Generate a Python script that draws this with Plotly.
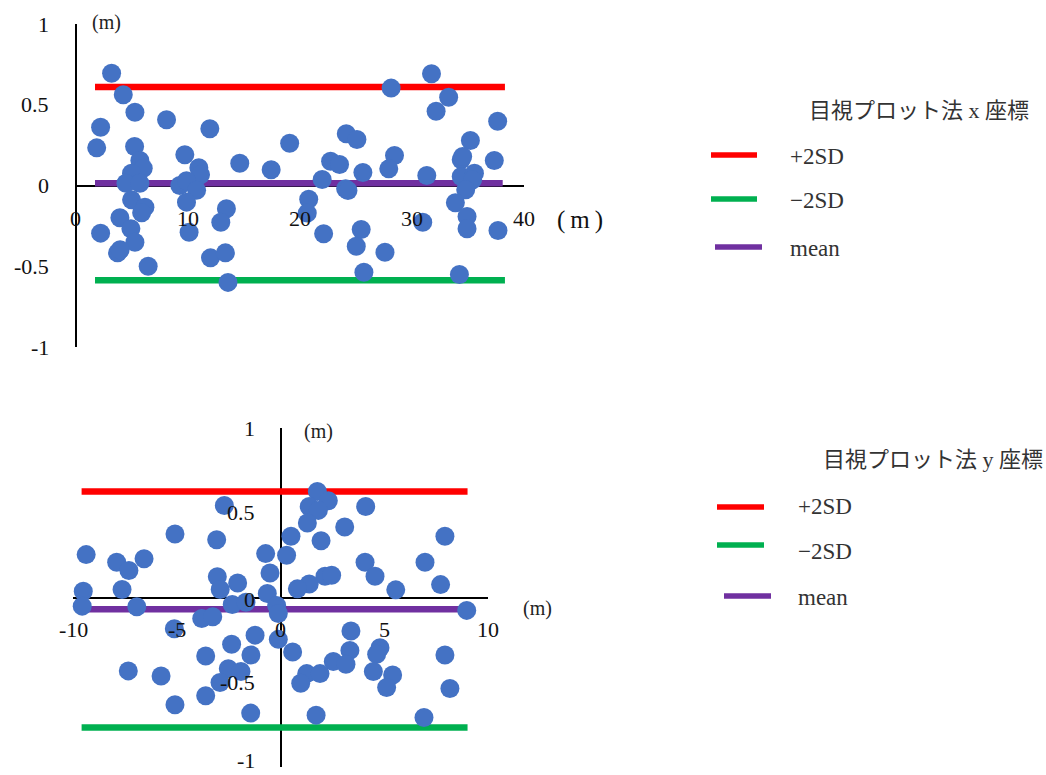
import plotly.graph_objects as go

# ---------------- top panel: x-coordinate residuals ----------------
top_pos = [3.22, 4.26, 5.3, 2.24, 8.12, 11.98, 1.89, 5.27, 5.74, 6.04, 9.75, 11.0, 11.15, 14.65,
           17.45, 5.0, 4.5, 5.74, 9.3, 9.9, 10.8, 5.0, 6.19, 5.9, 9.9, 13.46, 3.96, 12.96, 2.24,
           4.94, 10.13, 5.3, 3.75, 3.98, 6.48, 12.04, 13.37, 13.6,
           28.15, 31.75, 33.28, 32.16, 37.65, 19.1, 24.15, 25.1, 35.22, 28.45, 22.75, 23.55, 34.4,
           34.53, 37.35, 25.63, 27.94, 31.33, 22.0, 34.4, 35.58, 35.42, 24.09, 24.3, 34.8, 20.8,
           20.67, 33.88, 34.92, 30.97, 34.92, 37.68, 22.13, 25.48, 25.04, 27.6, 25.72, 34.24]
top_err = [0.695, 0.562, 0.454, 0.361, 0.407, 0.351, 0.233, 0.241, 0.155, 0.107, 0.19, 0.11, 0.066,
           0.138, 0.097, 0.076, 0.014, 0.014, 0.0, 0.03, -0.03, -0.089, -0.134, -0.169, -0.103,
           -0.144, -0.2, -0.227, -0.295, -0.268, -0.289, -0.351, -0.417, -0.398, -0.5, -0.448,
           -0.417, -0.6,
           0.603, 0.692, 0.547, 0.46, 0.398, 0.262, 0.32, 0.285, 0.279, 0.186, 0.15, 0.13, 0.159,
           0.18, 0.155, 0.08, 0.103, 0.062, 0.037, 0.056, 0.076, 0.035, -0.02, -0.031, -0.027,
           -0.085, -0.171, -0.107, -0.192, -0.227, -0.268, -0.279, -0.299, -0.272, -0.376, -0.413,
           -0.537, -0.551]
top_plus2sd = 0.61
top_minus2sd = -0.587
top_mean = 0.014
top_band_x = [1.74, 38.3]
top_mean_x = [1.74, 38.1]

# ---------------- bottom panel: y-coordinate residuals ----------------
bot_pos = [-2.72, -5.1, -3.09, -9.38, -7.91, -7.32, -6.59, -0.73, -0.52, -3.06, -2.92, -2.08,
           -9.52, -7.65, -0.65, -9.57, -6.94, -2.34, -1.68, -0.2, -0.12, -3.81, -3.28, -5.13,
           -1.24, -2.37, -0.12, -3.62, -1.44, -2.53, -1.92, -2.93, -7.35, -5.77, -3.62, -5.1,
           -1.45,
           1.76, 2.29, 1.37, 1.81, 4.09, 1.28, 3.08, 0.49, 1.94, 7.91, 0.28, 4.06, 6.95, 4.54,
           2.13, 2.45, 1.37, 0.8, 5.54, 7.7, 8.96, 3.38, 0.57, 3.33, 4.78, 4.62, 2.53, 3.14, 1.25,
           1.89, 0.96, 4.46, 5.39, 5.1, 7.91, 8.15, 1.7, 6.9]
bot_err = [0.543, 0.375, 0.341, 0.253, 0.208, 0.159, 0.229, 0.259, 0.145, 0.122, 0.047, 0.086,
           0.037, 0.047, 0.024, -0.051, -0.055, -0.041, -0.028, -0.047, -0.094, -0.124, -0.114,
           -0.184, -0.222, -0.276, -0.247, -0.345, -0.339, -0.42, -0.437, -0.502, -0.433, -0.463,
           -0.58, -0.633, -0.682,
           0.625, 0.571, 0.537, 0.514, 0.537, 0.439, 0.416, 0.361, 0.335, 0.361, 0.249, 0.208,
           0.208, 0.125, 0.125, 0.131, 0.08, 0.051, 0.045, 0.076, -0.076, -0.198, -0.322, -0.312,
           -0.296, -0.335, -0.378, -0.394, -0.449, -0.449, -0.506, -0.437, -0.457, -0.531, -0.339,
           -0.537, -0.694, -0.708]
bot_plus2sd = 0.625
bot_minus2sd = -0.767
bot_mean = -0.07
bot_band_x = [-9.6, 9.0]
bot_mean_x = [-9.45, 8.7]

# ---------------- tick labels ----------------
top_xticks = [0, 10, 20, 30, 40]
bot_xticks = [-10, -5, 0, 5, 10]
yticks = [1, 0.5, 0, -0.5, -1]
ytick_text = ["1", "0.5", "0", "-0.5", "-1"]

series_names = ["+2SD", "\u22122SD", "mean"]
series_colors = ["#FF0000", "#00B050", "#7030A0"]
point_color = "#4472C4"

top_title = "目視プロット法 x 座標"
bot_title = "目視プロット法 y 座標"

W, H = 1046, 775
FONT = "Liberation Serif, 'Noto Sans CJK JP', serif"


def px(x):
    return x / W


def py(y):
    return 1 - y / H


fig = go.Figure()

# limit lines + mean, then the points on top
for xa, ya, levels, band, mean_x in [
        ("x", "y", [top_plus2sd, top_minus2sd, top_mean], top_band_x, top_mean_x),
        ("x2", "y2", [bot_plus2sd, bot_minus2sd, bot_mean], bot_band_x, bot_mean_x)]:
    for name, color, level, xs in zip(series_names, series_colors, levels, [band, band, mean_x]):
        fig.add_trace(go.Scatter(x=xs, y=[level, level], mode="lines", name=name,
                                 line=dict(color=color, width=6.5), xaxis=xa, yaxis=ya,
                                 showlegend=False, cliponaxis=False, hoverinfo="skip"))

fig.add_trace(go.Scatter(x=top_pos, y=top_err, mode="markers", xaxis="x", yaxis="y",
                         marker=dict(color=point_color, size=19), showlegend=False,
                         cliponaxis=False))
fig.add_trace(go.Scatter(x=bot_pos, y=bot_err, mode="markers", xaxis="x2", yaxis="y2",
                         marker=dict(color=point_color, size=19), showlegend=False,
                         cliponaxis=False))

axis_common = dict(showgrid=False, showticklabels=False, showline=False, ticks="",
                   zeroline=True, zerolinecolor="#000000", zerolinewidth=2)

fig.update_layout(
    width=W, height=H,
    margin=dict(l=0, r=0, t=0, b=0),
    paper_bgcolor="white", plot_bgcolor="white",
    xaxis=dict(domain=[px(75.5), px(524)], range=[0, 40], anchor="y", **axis_common),
    yaxis=dict(domain=[py(347), py(24)], range=[-1, 1], anchor="x", **axis_common),
    xaxis2=dict(domain=[px(73.3), px(488.3)], range=[-10, 10], anchor="y2", **axis_common),
    yaxis2=dict(domain=[py(767), py(428)], range=[-1, 1], anchor="x2", **axis_common),
    showlegend=False,
)

ann = []
tick_font = dict(family=FONT, size=22, color="#111111")
# top panel ticks
for v in top_xticks:
    ann.append(dict(x=v, y=0, xref="x", yref="y", text=str(v), showarrow=False,
                    xanchor="center", yanchor="middle", yshift=-33, font=tick_font))
for v, t in zip(yticks, ytick_text):
    ann.append(dict(x=0, y=v, xref="x", yref="y", text=t, showarrow=False,
                    xanchor="right", yanchor="middle", xshift=-25, font=tick_font))
# bottom panel ticks
for v in bot_xticks:
    ann.append(dict(x=v, y=0, xref="x2", yref="y2", text=str(v), showarrow=False,
                    xanchor="center", yanchor="middle", yshift=-32, font=tick_font))
for v, t in zip(yticks, ytick_text):
    shift = {0: -2, -1: 7}.get(v, 0)
    ann.append(dict(x=0, y=v, xref="x2", yref="y2", text=t, showarrow=False,
                    xanchor="right", yanchor="middle", xshift=-24,
                    yshift=shift, font=tick_font))

# unit labels
unit_small = dict(family=FONT, size=20, color="#222222")
ann += [
    dict(x=px(106), y=py(23), xref="paper", yref="paper", text="(m)", showarrow=False,
         xanchor="center", yanchor="middle", font=unit_small),
    dict(x=px(580), y=py(220), xref="paper", yref="paper", text="(\u2009m\u2009)",
         showarrow=False, xanchor="center", yanchor="middle",
         font=dict(family=FONT, size=25, color="#111111")),
    dict(x=px(318), y=py(431), xref="paper", yref="paper", text="(m)", showarrow=False,
         xanchor="center", yanchor="middle", font=unit_small),
    dict(x=px(537), y=py(608), xref="paper", yref="paper", text="(m)", showarrow=False,
         xanchor="center", yanchor="middle", font=unit_small),
]

# legends drawn beside each panel
legend_font = dict(family=FONT, size=23, color="#333333")
title_font = dict(family=FONT, size=22, color="#333333")
shapes = []
for title, tx, tanchor, ty, line_x, mean_line_x, text_x, rows_line, rows_text in [
        (top_title, 807, "left", 110, (711, 757), (715, 762), 788, [155, 199, 247], [156, 201, 248]),
        (bot_title, 1045, "right", 460, (717, 764), (724, 771), 796, [507, 545, 596], [506, 551, 597])]:
    ann.append(dict(x=px(tx), y=py(ty), xref="paper", yref="paper", text=title,
                    showarrow=False, xanchor=tanchor, yanchor="middle", font=title_font))
    for i, (name, color) in enumerate(zip(series_names, series_colors)):
        lx = mean_line_x if i == 2 else line_x
        shapes.append(dict(type="line", xref="paper", yref="paper",
                           x0=px(lx[0]), x1=px(lx[1]), y0=py(rows_line[i]), y1=py(rows_line[i]),
                           line=dict(color=color, width=5.5)))
        ann.append(dict(x=px(text_x), y=py(rows_text[i]), xref="paper", yref="paper",
                        text=name, showarrow=False, xanchor="left", yanchor="middle",
                        font=legend_font))

fig.update_layout(annotations=ann, shapes=shapes)
fig.write_html("out.html")
